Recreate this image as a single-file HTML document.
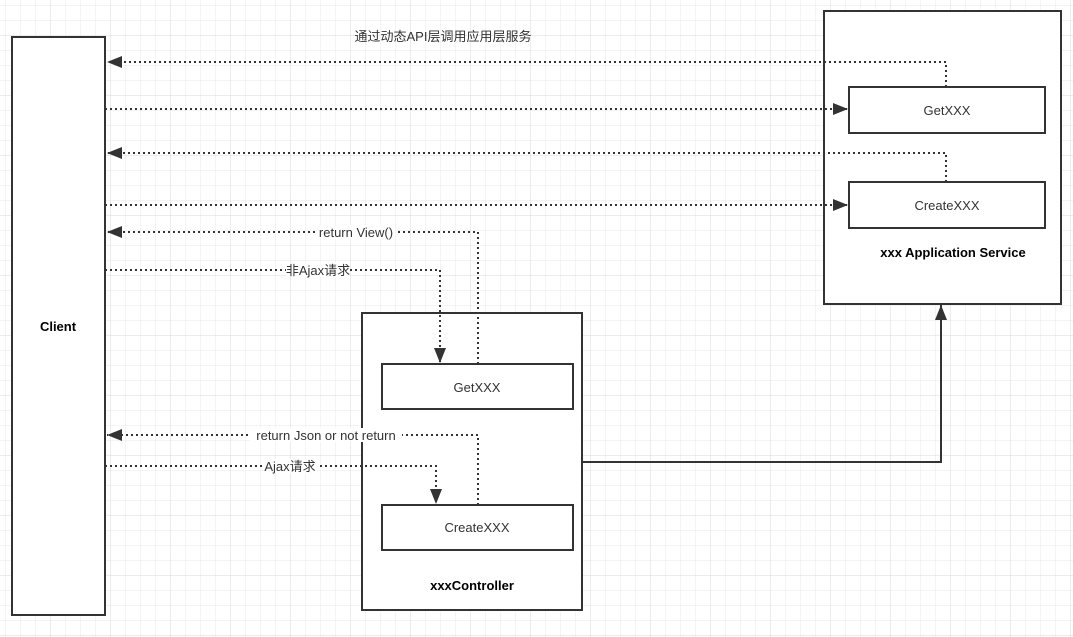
<!DOCTYPE html>
<html><head><meta charset="utf-8"><style>
html,body{margin:0;padding:0;background:#fff;}
svg{display:block;}
text{font-family:"Liberation Sans","Noto Sans CJK SC",sans-serif;font-size:13px;fill:#333;}
.b{font-weight:bold;font-size:13px;fill:#000;}
</style></head><body>
<svg width="1073" height="637" viewBox="0 0 1073 637" xmlns="http://www.w3.org/2000/svg">
<defs>
<pattern id="minor" width="15" height="15" patternUnits="userSpaceOnUse" x="5" y="5">
<path d="M0 0H15M0 0V15" stroke="#e9e9e9" stroke-width="1" fill="none"/>
</pattern>
<pattern id="major" width="60" height="60" patternUnits="userSpaceOnUse" x="50" y="35">
<path d="M0 0H60M0 0V60" stroke="#dadada" stroke-width="1" fill="none"/>
</pattern>
<marker id="ah2" viewBox="0 0 15 12" refX="15" refY="6" markerWidth="15" markerHeight="12" markerUnits="userSpaceOnUse" orient="auto">
<path d="M0 0L15 6L0 12Z" fill="#333"/>
</marker>
</defs>
<rect width="1073" height="637" fill="url(#minor)"/>
<rect width="1073" height="637" fill="url(#major)"/>

<g fill="#fff" stroke="#333" stroke-width="2">
<rect x="12" y="37" width="93" height="578"/>
<rect x="824" y="11" width="237" height="293"/>
<rect x="849" y="87" width="196" height="46"/>
<rect x="849" y="182" width="196" height="46"/>
<rect x="362" y="313" width="220" height="297"/>
<rect x="382" y="364" width="191" height="45"/>
<rect x="382" y="505" width="191" height="45"/>
</g>

<g fill="none" stroke="#333" stroke-width="2" stroke-dasharray="2 3">
<path d="M946 87V62H107" marker-end="url(#ah2)"/>
<path d="M105 109H848" marker-end="url(#ah2)"/>
<path d="M946 182V153H107" marker-end="url(#ah2)"/>
<path d="M105 205H848" marker-end="url(#ah2)"/>
<path d="M478 364V232H107" marker-end="url(#ah2)"/>
<path d="M105 270H440V363" marker-end="url(#ah2)"/>
<path d="M478 505V435H107" marker-end="url(#ah2)"/>
<path d="M105 466H436V504" marker-end="url(#ah2)"/>
</g>
<path d="M582 462H941V305" fill="none" stroke="#333" stroke-width="2" marker-end="url(#ah2)"/>

<g fill="#fff">
<rect x="317" y="225" width="78" height="14"/>
<rect x="286" y="263" width="64" height="14"/>
<rect x="250" y="428" width="152" height="14"/>
<rect x="263" y="459" width="54" height="14"/>
</g>
<g text-anchor="middle">
<text x="443" y="41">通过动态API层调用应用层服务</text>
<text x="356" y="237">return View()</text>
<text x="318" y="275">非Ajax请求</text>
<text x="326" y="440">return Json or not return</text>
<text x="290" y="471">Ajax请求</text>
<text x="947" y="115">GetXXX</text>
<text x="947" y="210">CreateXXX</text>
<text x="477" y="392">GetXXX</text>
<text x="477" y="532">CreateXXX</text>
<text class="b" x="58" y="331">Client</text>
<text class="b" x="953" y="257">xxx Application Service</text>
<text class="b" x="472" y="590">xxxController</text>
</g>
</svg>
</body></html>
